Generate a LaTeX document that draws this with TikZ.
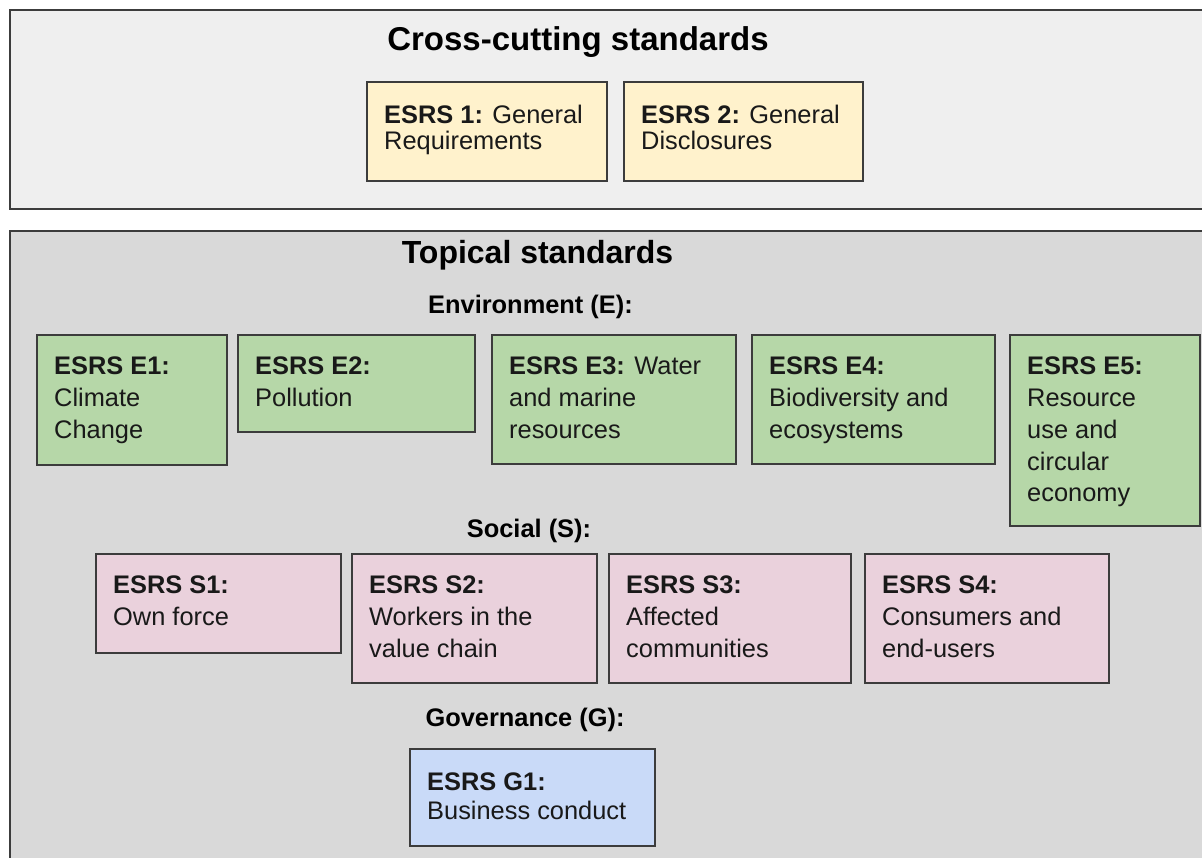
\documentclass[tikz,border=0pt]{standalone}
\usepackage{fontspec}
\setmainfont{Liberation Sans}
\definecolor{crossbg}{HTML}{EFEFEF}
\definecolor{topbg}{HTML}{D9D9D9}
\definecolor{yel}{HTML}{FFF2CC}
\definecolor{grn}{HTML}{B6D7A8}
\definecolor{pnk}{HTML}{EAD1DC}
\definecolor{blu}{HTML}{C9DAF8}
\definecolor{edge}{HTML}{3C3C3C}
\newcommand\stdbox[8]{%
  \node[sbox,fill=#2,minimum width=#5pt,minimum height=#6pt] (#1) at (#3,#4) {};
  \node[btxt,#8] (#1t) at ([xshift=17pt,yshift=-22pt]#1.north west) {#7};}
\begin{document}
\begin{tikzpicture}[x=1pt,y=-1pt,
  panel/.style={draw=edge,line width=1.6pt},
  sbox/.style={draw=edge,line width=1.3pt,anchor=north west,inner sep=0pt,outer sep=0pt},
  btxt/.style={anchor=north west,inner sep=0pt,align=left,text=black!90,
    font=\fontsize{25.4}{31.7}\selectfont},
  head/.style={anchor=base,inner sep=0pt,font=\bfseries\fontsize{33}{38}\selectfont},
  sub/.style={anchor=base,inner sep=0pt,font=\bfseries\fontsize{25.4}{30}\selectfont}]
\useasboundingbox (0,0) rectangle (1202,857);
\begin{scope}
  \clip (0,0) rectangle (1202,857);
  \draw[panel,fill=crossbg] (10,10) rectangle (1240,209);
  \draw[panel,fill=topbg] (10,231) rectangle (1240,900);
\end{scope}
% headings
\node[head] (hcross) at (578,50) {Cross-cutting standards};
\node[head,font=\bfseries\fontsize{32}{38}\selectfont] (htop) at (537.5,263) {Topical standards};
\node[sub] (henv) at (530.5,313) {Environment (E):};
\node[sub] (hsoc) at (529,537) {Social (S):};
\node[sub] (hgov) at (525,726) {Governance (G):};
% cross-cutting
\stdbox{c1}{yel}{367}{82}{240}{99}{\textbf{ESRS 1:} General\\Requirements}{font=\fontsize{25.4}{26}\selectfont,yshift=-1pt}
\stdbox{c2}{yel}{624}{82}{239}{99}{\textbf{ESRS 2:} General\\Disclosures}{font=\fontsize{25.4}{26}\selectfont,yshift=-1pt}
% environment
\stdbox{e1}{grn}{37}{335}{190}{130}{\textbf{ESRS E1:}\\Climate\\Change}{}
\stdbox{e2}{grn}{238}{335}{237}{97}{\textbf{ESRS E2:}\\Pollution}{}
\stdbox{e3}{grn}{492}{335}{244}{129}{\textbf{ESRS E3:} Water\\and marine\\resources}{}
\stdbox{e4}{grn}{752}{335}{243}{129}{\textbf{ESRS E4:}\\Biodiversity and\\ecosystems}{}
\stdbox{e5}{grn}{1010}{335}{190}{191}{\textbf{ESRS E5:}\\Resource\\use and\\circular\\economy}{}
% social
\stdbox{s1}{pnk}{96}{554}{245}{99}{\textbf{ESRS S1:}\\Own force}{}
\stdbox{s2}{pnk}{352}{554}{245}{129}{\textbf{ESRS S2:}\\Workers in the\\value chain}{}
\stdbox{s3}{pnk}{609}{554}{242}{129}{\textbf{ESRS S3:}\\Affected\\communities}{}
\stdbox{s4}{pnk}{865}{554}{244}{129}{\textbf{ESRS S4:}\\Consumers and\\end-users}{}
% governance
\stdbox{g1}{blu}{410}{749}{245}{97}{\textbf{ESRS G1:}\\Business conduct}{font=\fontsize{25.4}{29}\selectfont,yshift=-2pt}
\end{tikzpicture}
\end{document}
